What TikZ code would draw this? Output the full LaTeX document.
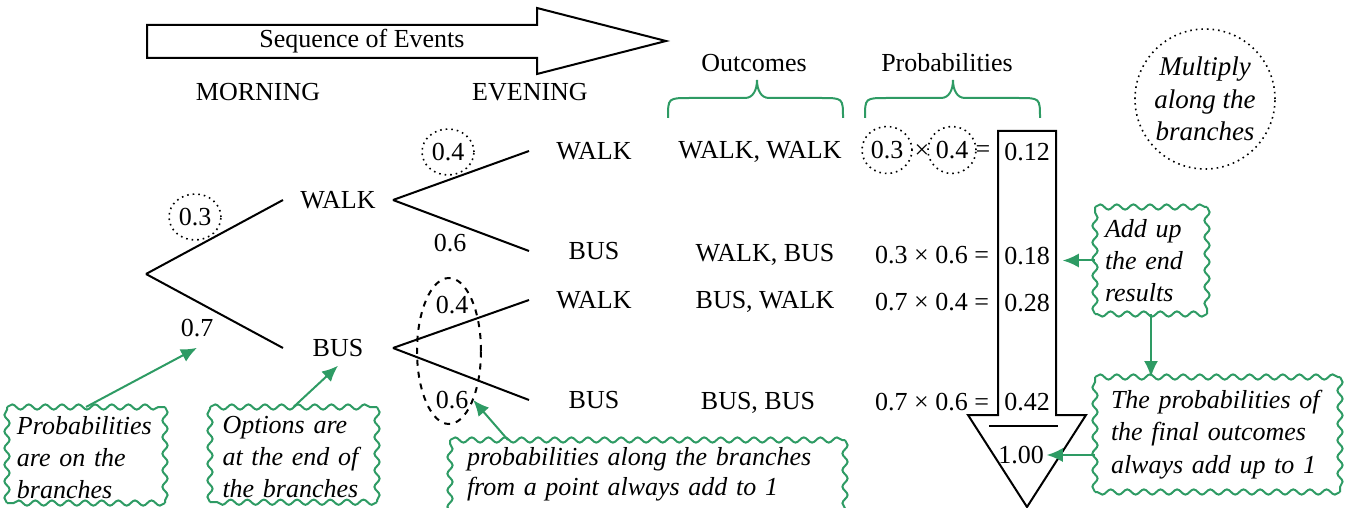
\documentclass[tikz,border=0pt]{standalone}
\usepackage{fontspec}
\setmainfont{Liberation Serif}
\usetikzlibrary{shapes.geometric}
\usetikzlibrary{decorations.pathmorphing}
\usetikzlibrary{arrows.meta}
\definecolor{noteGreen}{RGB}{46,155,100}
\newcommand{\Walk}{WALK}
\newcommand{\Bus}{BUS}
\tikzstyle{lbl} = [inner sep=2pt, font=\fontsize{13}{15}\selectfont]
\tikzstyle{opt} = [lbl, inner sep=0pt, minimum width=54pt]
\tikzstyle{eopt} = [lbl, inner sep=0pt, minimum width=64pt]
\tikzstyle{ring} = [lbl, ellipse, draw, dotted, line width=0.8pt, inner sep=0pt, minimum width=26pt, minimum height=23pt]
\tikzstyle{noteBox} = [anchor=north west, align=left, inner xsep=4pt, inner ysep=4pt, font=\fontsize{13}{16}\selectfont\itshape]
\tikzstyle{wave} = [noteGreen, line width=1pt, decorate, decoration={snake, segment length=8.3pt, amplitude=1.3pt}]
\tikzstyle{noteArrow} = [noteGreen, line width=1pt, -{Latex[length=8pt,width=7pt]}]
% wavy frame, one side at a time
\newcommand{\waveBox}[1]{%
  \draw[wave] (#1.south west) -- (#1.north west);
  \draw[wave] (#1.north west) -- (#1.north east);
  \draw[wave] (#1.north east) -- (#1.south east);
  \draw[wave] (#1.south east) -- (#1.south west);}

\begin{document}
\begin{tikzpicture}[x=0.5pt, y=-0.5pt, line width=1pt]
\clip (0,0) rectangle (1346,508);

% Sequence arrow
\draw (147,25) -- (537,25) -- (537,8) -- (666,41) -- (537,74) -- (537,58) -- (147,58) -- cycle;
\node[lbl] (seq) at (362,41) {Sequence of Events};

% Column heads
\node[lbl] (morn) at (258,92) {MORNING};
\node[lbl] (even) at (530,92) {EVENING};
\node[lbl] (outc) at (754,63) {Outcomes};
\node[lbl] (prob) at (947,63) {Probabilities};
\draw[noteGreen] (668,118) .. controls (668,98) .. (690,98) -- (745,98) .. controls (753,98) and (757,90) .. (757,80)
  .. controls (757,90) and (761,98) .. (769,98) -- (821,98) .. controls (843,98) .. (843,118);
\draw[noteGreen] (865,118) .. controls (865,98) .. (887,98) -- (941,98) .. controls (949,98) and (953,90) .. (953,80)
  .. controls (953,90) and (957,98) .. (965,98) -- (1018,98) .. controls (1040,98) .. (1040,118);

% Define nodes
\coordinate (root) at (146,274);
\node[opt]  (mw)  at (338,200) {\Walk};
\node[opt]  (mb)  at (338,348) {\Bus};
\node[eopt] (ew1) at (594,151) {\Walk};
\node[eopt] (eb1) at (594,251) {\Bus};
\node[eopt] (ew2) at (594,300) {\Walk};
\node[eopt] (eb2) at (594,400) {\Bus};

\node[ring] (l03) at (195,217) {0.3};
\node[lbl]  (l07) at (197,328) {0.7};
\node[ring] (w04) at (448,152) {0.4};
\node[lbl]  (w06) at (450,243) {0.6};
\node[lbl]  (b04) at (452,305) {0.4};
\node[lbl]  (b06) at (452,400) {0.6};
\node[ellipse, draw, dashed, minimum width=32pt, minimum height=73pt] (grp) at (449,351) {};

\node[lbl] (o1) at (760,152) {\Walk, \Walk};
\node[lbl] (o2) at (765,255) {\Walk, \Bus};
\node[lbl] (o3) at (765,302) {\Bus, \Walk};
\node[lbl] (o4) at (758,403) {\Bus, \Bus};

\node[ring, minimum width=25pt, minimum height=23.5pt] (p03) at (887,150) {0.3};
\node[lbl, inner sep=0pt] (pt) at (922,152) {×};
\node[ring, minimum width=24pt, minimum height=23.5pt] (p04) at (952,150) {0.4};
\node[lbl, inner sep=0pt] (pe) at (983,152) {=};
\node[lbl, inner sep=0pt, anchor=east] (p2) at (990,255) {0.3 × 0.6 =};
\node[lbl, inner sep=0pt, anchor=east] (p3) at (990,302) {0.7 × 0.4 =};
\node[lbl, inner sep=0pt, anchor=east] (p4) at (990,402) {0.7 × 0.6 =};

% Sum arrow
\draw (998,131) -- (1056,131) -- (1056,415) -- (1086,415) -- (1027,507) -- (968,415) -- (998,415) -- cycle;
\draw (989,426) -- (1058,426);
\node[lbl] (r12) at (1027,152) {0.12};
\node[lbl] (r18) at (1027,256) {0.18};
\node[lbl] (r28) at (1027,303) {0.28};
\node[lbl] (r42) at (1027,402) {0.42};
\node[lbl, inner sep=1pt] (tot) at (1021,455) {1.00};

\node[circle, draw, dotted, line width=0.8pt, minimum size=70pt, inner sep=0pt, align=center,
  font=\fontsize{13.5}{16.25}\selectfont\itshape] (mult) at (1205,99) {Multiply\\along the\\branches};

% Notes
\node[noteBox, text width=69pt, inner xsep=4.5pt, text depth=30pt] (cb1) at (7,407) {Probabilities\\are on the\\branches};
\node[noteBox, text width=71pt, inner xsep=5.75pt, text depth=30pt] (cb2) at (210,407) {Options are\\at the end of\\the branches};
\node[noteBox, text width=180.5pt, inner xsep=8pt, inner ysep=3pt, text depth=20pt,
  font=\fontsize{13}{15}\selectfont\itshape] (cb3) at (450,440) {probabilities along the branches\\from a point always add to 1};
\node[noteBox, text width=46pt, inner xsep=4.5pt, inner ysep=3pt, minimum height=52.5pt] (cb4) at (1095,207) {Add up\\the end\\results};
\node[noteBox, text width=106.5pt, inner xsep=7.5pt, minimum height=56.5pt,
  font=\fontsize{13}{16.25}\selectfont\itshape] (cb5) at (1095,377) {The probabilities of\\the final outcomes\\always add up to 1};
\waveBox{cb1}
\waveBox{cb2}
\waveBox{cb3}
\waveBox{cb4}
\waveBox{cb5}

% Edges
\draw (root) -- (mw.west);
\draw (root) -- (mb.west);
\draw (mw.east) -- (ew1.west);
\draw (mw.east) -- (eb1.west);
\draw (mb.east) -- (ew2.west);
\draw (mb.east) -- (eb2.west);

\draw[noteArrow] (cb1.north) -- ([yshift=-3pt]l07.south);
\draw[noteArrow] (cb2.north) -- ([yshift=-4pt]mb.south);
\draw[noteArrow] ([xshift=29pt]cb3.north west) -- (b06.east);
\draw[noteArrow, shorten >=4pt] (cb4.west) -- (cb4.west -| r18.east);
\draw[noteArrow] (cb4.south) -- (cb4.south |- cb5.north);
\draw[noteArrow] (cb5.west |- tot.east) -- (tot.east);
\end{tikzpicture}
\end{document}
